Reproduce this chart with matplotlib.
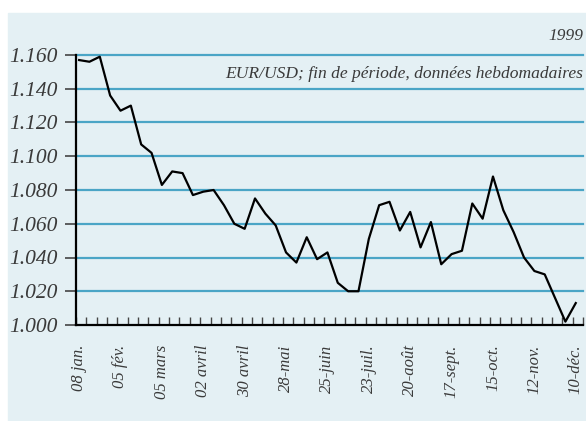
import matplotlib.pyplot as plt
from matplotlib.patches import Rectangle

# weekly EUR/USD, end of period, 1999
rates = [1.157, 1.156, 1.159, 1.136, 1.127, 1.130, 1.107, 1.102, 1.083, 1.091,
         1.090, 1.077, 1.079, 1.080, 1.071, 1.060, 1.057, 1.075, 1.066, 1.059,
         1.043, 1.037, 1.052, 1.039, 1.043, 1.025, 1.020, 1.020, 1.051, 1.071,
         1.073, 1.056, 1.067, 1.046, 1.061, 1.036, 1.042, 1.044, 1.072, 1.063,
         1.088, 1.068, 1.055, 1.040, 1.032, 1.030, 1.016, 1.002, 1.013]
date_labels = ['08 jan.', '05 fév.', '05 mars', '02 avril', '30 avril', '28-mai',
               '25-juin', '23-juil.', '20-août', '17-sept.', '15-oct.', '12-nov.',
               '10-déc.']
y_ticks = [1.000, 1.020, 1.040, 1.060, 1.080, 1.100, 1.120, 1.140, 1.160]

bg = '#e4f0f4'
grid_col = '#4aa5c6'
txt_col = '#3a3a3a'

plt.rcParams['font.family'] = ['Liberation Serif', 'DejaVu Serif']
plt.rcParams['font.style'] = 'italic'

fig = plt.figure(figsize=(5.86, 4.21), dpi=100)
fig.patches.append(Rectangle((8 / 586, 0), 1, 1 - 13 / 421,
                             transform=fig.transFigure, color=bg, zorder=-10))

ax = fig.add_axes([76 / 586, 1 - 325 / 421, 507 / 586, 270 / 421])
ax.set_facecolor(bg)
ax.patch.set_alpha(0)

weeks = list(range(len(rates)))
for v in y_ticks[1:]:
    ax.axhline(v, color=grid_col, lw=1.6, zorder=1, clip_on=False)
ax.plot(weeks, rates, color='black', lw=1.6, zorder=3)

ax.set_ylim(1.000, 1.160)
ax.set_xlim(-0.3, len(rates) - 0.3)
ax.set_yticks(y_ticks)
ax.set_yticklabels(['%.3f' % v for v in y_ticks], fontsize=15.5, color=txt_col)
ax.tick_params(axis='y', length=8, width=1.2, color='#444444', pad=5)

# small week marks on the x axis, labels every 4 weeks
ax.set_xticks([k - 0.3 for k in range(len(rates) + 1)], minor=True)
ax.tick_params(axis='x', which='minor', direction='in', length=6, width=1,
               color='#444444')
ax.set_xticks(weeks[::4])
ax.set_xticklabels(date_labels, rotation=90, fontsize=12, color=txt_col)
ax.tick_params(axis='x', which='major', length=0, pad=14)

for s in ['top', 'right']:
    ax.spines[s].set_visible(False)
for s in ['left', 'bottom']:
    ax.spines[s].set_linewidth(1.6)

fig.text(583 / 586, 1 - 36 / 421, '1999', ha='right', va='center',
         fontsize=12.5, color=txt_col)
fig.text(583 / 586, 1 - 74 / 421, 'EUR/USD; fin de période, données hebdomadaires',
         ha='right', va='center', fontsize=12.6, color=txt_col)

fig.savefig('out.png', dpi=100)
